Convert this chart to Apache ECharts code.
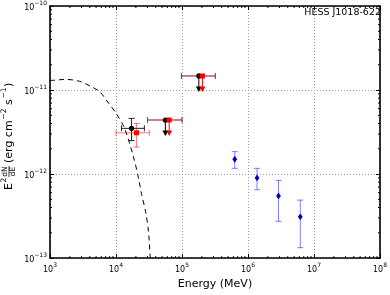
<!DOCTYPE html>
<html><head><meta charset="utf-8">
<script src="https://cdn.jsdelivr.net/npm/echarts@6/dist/echarts.min.js"></script>
<style>html,body{margin:0;padding:0;background:#fff}#c{width:390px;height:295px}</style>
</head><body><div id="c"></div>
<script>
// ---- data ----
const curveE = [1.0e3, 1.2e3, 1.7e3, 2.8e3, 4.4e3, 5.7e3, 7.5e3, 1.0e4, 1.35e4, 1.9e4, 2.2e4, 2.45e4, 2.8e4, 3.1e4, 3.3e4];
const curveF = [1.3e-11, 1.31e-11, 1.34e-11, 1.27e-11, 1.08e-11, 9.5e-12, 7.2e-12, 5.3e-12, 3.5e-12, 1.45e-12, 8.8e-13, 5.7e-13, 3.6e-13, 2.1e-13, 1.0e-13];

const blackE = [1.72e4], blackF = [3.5e-12], blackElo = [1.21e4], blackEhi = [2.69e4], blackFlo = [2.5e-12], blackFhi = [4.6e-12];
const redE = [2.04e4], redF = [3.1e-12], redElo = [1.0e4], redEhi = [3.2e4], redFlo = [2.1e-12], redFhi = [4.0e-12];

const blackUlE = [5.6e4, 1.8e5], blackUlF = [4.4e-12, 1.47e-11], blackUlElo = [3.0e4, 9.8e4], blackUlEhi = [1.0e5, 3.2e5];
const redUlE = [6.4e4, 2.04e5], redUlF = [4.4e-12, 1.47e-11], redUlElo = [3.0e4, 9.8e4], redUlEhi = [1.0e5, 3.2e5];

const blueE = [6.3e5, 1.37e6, 2.9e6, 6.2e6];
const blueF = [1.5e-12, 9.0e-13, 5.5e-13, 3.1e-13];
const blueFlo = [1.17e-12, 6.5e-13, 2.74e-13, 1.33e-13];
const blueFhi = [1.85e-12, 1.17e-12, 8.4e-13, 4.9e-13];

const xMin = 1e3, xMax = 1e8, yMin = 1e-13, yMax = 1e-10;
const xDecades = [1e3, 1e4, 1e5, 1e6, 1e7];
const yDecades = [1e-13, 1e-12, 1e-11];
const minorMult = [2, 3, 4, 5, 6, 7, 8, 9];
const title = 'HESS J1018-622';

// ---- helpers ----
const FONT = '"DejaVu Sans", sans-serif';
function zip() { const a = arguments; return a[0].map((_, i) => Array.prototype.map.call(a, arr => arr[i])); }
const xMinor = xDecades.flatMap(d => minorMult.map(m => [d * m, yMin]));
const yMinor = yDecades.flatMap(d => minorMult.map(m => [xMin, d * m]));

function marker(kind, cx, cy, color) {
  if (kind === 'circle') return { type: 'circle', shape: { cx, cy, r: 2.6 }, style: { fill: color } };
  if (kind === 'square') return { type: 'rect', shape: { x: cx - 2.5, y: cy - 2.5, width: 5, height: 5 }, style: { fill: color } };
  return { type: 'polygon', shape: { points: [[cx, cy - 3.4], [cx + 2.4, cy], [cx, cy + 3.4], [cx - 2.4, cy]] }, style: { fill: color } };
}
function makeRender(o) {
  return function (params, api) {
    const E = api.value(0), F = api.value(1);
    const c = api.coord([E, F]);
    const kids = [];
    const ls = { stroke: o.bar, lineWidth: 1 };
    const cap = 3;
    if (o.xi) {
      const a = api.coord([api.value(o.xi[0]), F]), b = api.coord([api.value(o.xi[1]), F]);
      kids.push({ type: 'line', shape: { x1: a[0], y1: c[1], x2: b[0], y2: c[1] }, style: ls });
      kids.push({ type: 'line', shape: { x1: a[0], y1: c[1] - cap, x2: a[0], y2: c[1] + cap }, style: ls });
      kids.push({ type: 'line', shape: { x1: b[0], y1: c[1] - cap, x2: b[0], y2: c[1] + cap }, style: ls });
    }
    if (o.yi) {
      const lo = api.coord([E, api.value(o.yi[0])]), hi = api.coord([E, api.value(o.yi[1])]);
      kids.push({ type: 'line', shape: { x1: c[0], y1: lo[1], x2: c[0], y2: hi[1] }, style: ls });
      kids.push({ type: 'line', shape: { x1: c[0] - cap, y1: lo[1], x2: c[0] + cap, y2: lo[1] }, style: ls });
      kids.push({ type: 'line', shape: { x1: c[0] - cap, y1: hi[1], x2: c[0] + cap, y2: hi[1] }, style: ls });
    }
    if (o.ul) {
      const tip = c[1] + 16;
      kids.push({ type: 'line', shape: { x1: c[0], y1: c[1], x2: c[0], y2: tip - 5 }, style: { stroke: o.color, lineWidth: 1 } });
      kids.push({ type: 'polygon', shape: { points: [[c[0] - 3, tip - 5.5], [c[0] + 3, tip - 5.5], [c[0], tip]] }, style: { fill: o.color } });
    }
    kids.push(marker(o.marker, c[0], c[1], o.color));
    return { type: 'group', children: kids };
  };
}
function tickLabel(v) {
  const e = Math.round(Math.log10(v));
  return '{b|10}{s|' + String(e).replace('-', '\u2212') + '}';
}
const rich = {
  b: { fontSize: 8, fontFamily: FONT, color: '#000', lineHeight: 12, verticalAlign: 'bottom' },
  s: { fontSize: 6, fontFamily: FONT, color: '#000', lineHeight: 12, verticalAlign: 'top' }
};
const axisLine = { show: true, lineStyle: { color: '#000', width: 1.6 } };
const grid = { left: 50, right: 8, top: 5, bottom: 32 };
const split = { show: true, lineStyle: { color: '#9a9a9a', type: [1, 2], width: 1 } };

const chart = echarts.init(document.getElementById('c'), null, { renderer: 'canvas' });
chart.setOption({
  animation: false,
  backgroundColor: '#fff',
  title: { text: title, right: 9, top: 8, padding: 0, textStyle: { fontSize: 9.5, fontWeight: 'normal', fontFamily: FONT, color: '#000' } },
  grid: grid,
  xAxis: [
    { type: 'log', logBase: 10, min: xMin, max: xMax, splitNumber: 5, position: 'bottom',
      axisLine, axisTick: { inside: true, length: 4, lineStyle: { color: '#000' } },
      axisLabel: { formatter: tickLabel, rich, margin: 4 }, splitLine: split,
      name: 'Energy (MeV)', nameLocation: 'middle', nameGap: 14,
      nameTextStyle: { fontSize: 11, fontFamily: FONT, color: '#000', verticalAlign: 'top' } },
    { type: 'log', logBase: 10, min: xMin, max: xMax, splitNumber: 5, position: 'top',
      axisLine, axisTick: { inside: true, length: 4, lineStyle: { color: '#000' } },
      axisLabel: { show: false }, splitLine: { show: false } }
  ],
  yAxis: [
    { type: 'log', logBase: 10, min: yMin, max: yMax, splitNumber: 3, position: 'left',
      axisLine, axisTick: { inside: true, length: 4, lineStyle: { color: '#000' } },
      axisLabel: { formatter: tickLabel, rich, margin: 3 }, splitLine: split },
    { type: 'log', logBase: 10, min: yMin, max: yMax, splitNumber: 3, position: 'right',
      axisLine, axisTick: { inside: true, length: 4, lineStyle: { color: '#000' } },
      axisLabel: { show: false }, splitLine: { show: false } }
  ],
  graphic: [{
    type: 'group', x: 9.5, y: 190, rotation: Math.PI / 2, silent: true,
    children: [
      { type: 'text', style: { text: 'E', x: 0, y: 0, fontSize: 11, fontFamily: FONT, fill: '#000', verticalAlign: 'middle', align: 'left' } },
      { type: 'text', style: { text: '2', x: 7.5, y: -5, fontSize: 7.5, fontFamily: FONT, fill: '#000', verticalAlign: 'middle', align: 'left' } },
      { type: 'text', style: { text: 'dN', x: 18.5, y: -4.5, fontSize: 7.5, fontFamily: FONT, fill: '#000', verticalAlign: 'middle', align: 'center' } },
      { type: 'line', shape: { x1: 13, y1: -0.5, x2: 24, y2: -0.5 }, style: { stroke: '#000', lineWidth: 0.8 } },
      { type: 'text', style: { text: 'dE', x: 18.5, y: 4, fontSize: 7.5, fontFamily: FONT, fill: '#000', verticalAlign: 'middle', align: 'center' } },
      { type: 'text', style: { text: '(erg cm', x: 27, y: 0, fontSize: 11, fontFamily: FONT, fill: '#000', verticalAlign: 'middle', align: 'left' } },
      { type: 'text', style: { text: '\u22122', x: 70.5, y: -5, fontSize: 7.5, fontFamily: FONT, fill: '#000', verticalAlign: 'middle', align: 'left' } },
      { type: 'text', style: { text: ' s', x: 81.5, y: 0, fontSize: 11, fontFamily: FONT, fill: '#000', verticalAlign: 'middle', align: 'left' } },
      { type: 'text', style: { text: '\u22121', x: 91.5, y: -5, fontSize: 7.5, fontFamily: FONT, fill: '#000', verticalAlign: 'middle', align: 'left' } },
      { type: 'text', style: { text: ')', x: 103, y: 0, fontSize: 11, fontFamily: FONT, fill: '#000', verticalAlign: 'middle', align: 'left' } }
    ]
  }],
  series: [
    { type: 'custom', silent: true, clip: false, data: xMinor, z: 1,
      renderItem: (p, api) => {
        const v = api.value(0); const b = api.coord([v, yMin]); const t = api.coord([v, yMax]);
        const s = { stroke: '#000', lineWidth: 1 };
        return { type: 'group', children: [
          { type: 'line', shape: { x1: b[0], y1: b[1], x2: b[0], y2: b[1] - 2 }, style: s },
          { type: 'line', shape: { x1: t[0], y1: t[1], x2: t[0], y2: t[1] + 2 }, style: s } ] };
      } },
    { type: 'custom', silent: true, clip: false, data: yMinor, z: 1,
      renderItem: (p, api) => {
        const v = api.value(1); const l = api.coord([xMin, v]); const r = api.coord([xMax, v]);
        const s = { stroke: '#000', lineWidth: 1 };
        return { type: 'group', children: [
          { type: 'line', shape: { x1: l[0], y1: l[1], x2: l[0] + 2, y2: l[1] }, style: s },
          { type: 'line', shape: { x1: r[0], y1: r[1], x2: r[0] - 2, y2: r[1] }, style: s } ] };
      } },
    { type: 'line', data: zip(curveE, curveF), smooth: 0.3, showSymbol: false, silent: true,
      lineStyle: { color: '#000', width: 1, type: [5, 4] }, z: 2 },
    { type: 'custom', data: zip(blackE, blackF, blackElo, blackEhi, blackFlo, blackFhi), z: 3,
      renderItem: makeRender({ xi: [2, 3], yi: [4, 5], bar: '#222', color: '#000', marker: 'circle' }) },
    { type: 'custom', data: zip(redE, redF, redElo, redEhi, redFlo, redFhi), z: 4,
      renderItem: makeRender({ xi: [2, 3], yi: [4, 5], bar: 'rgba(255,0,0,0.55)', color: '#ff0000', marker: 'square' }) },
    { type: 'custom', data: zip(blackUlE, blackUlF, blackUlElo, blackUlEhi), z: 3,
      renderItem: makeRender({ xi: [2, 3], ul: true, bar: 'rgba(0,0,0,0.6)', color: '#000', marker: 'circle' }) },
    { type: 'custom', data: zip(redUlE, redUlF, redUlElo, redUlEhi), z: 4,
      renderItem: makeRender({ xi: [2, 3], ul: true, bar: 'rgba(255,0,0,0.55)', color: '#ff0000', marker: 'square' }) },
    { type: 'custom', data: zip(blueE, blueF, blueFlo, blueFhi), z: 5,
      renderItem: makeRender({ yi: [2, 3], bar: 'rgba(0,0,255,0.5)', color: '#0000cc', marker: 'diamond' }) }
  ]
});
</script></body></html>
